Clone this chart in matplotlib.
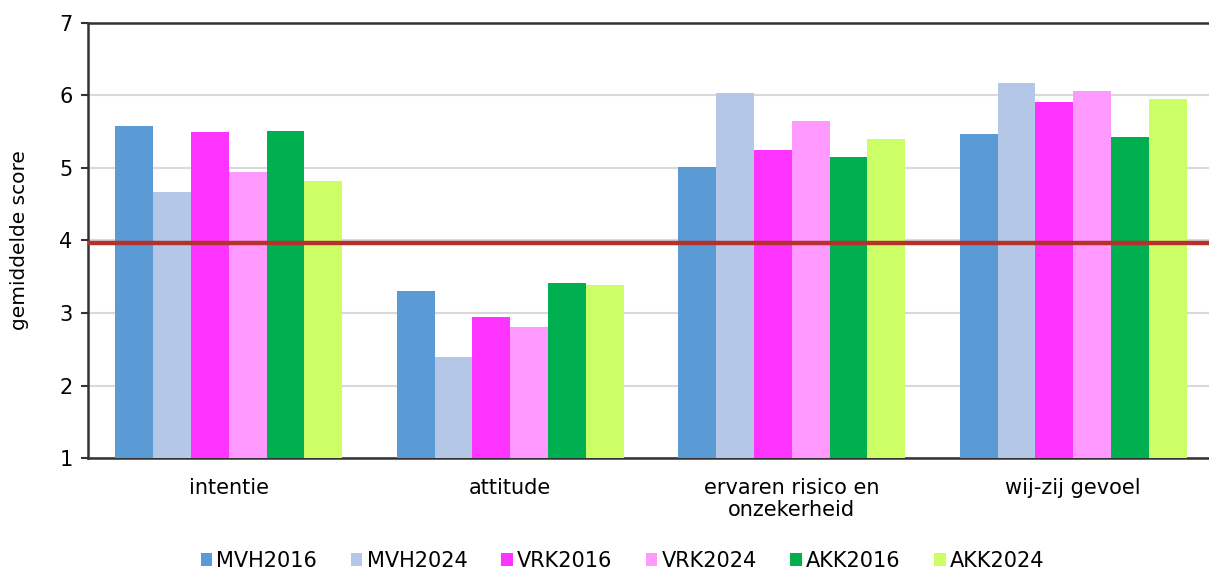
import matplotlib
matplotlib.use("Agg")
import matplotlib.pyplot as plt
import numpy as np

categories = ["intentie", "attitude", "ervaren risico en\nonzekerheid", "wij-zij gevoel"]
series_names = ["MVH2016", "MVH2024", "VRK2016", "VRK2024", "AKK2016", "AKK2024"]
mvh2016 = [5.57, 3.30, 5.01, 5.46]
mvh2024 = [4.66, 2.39, 6.03, 6.17]
vrk2016 = [5.49, 2.94, 5.24, 5.90]
vrk2024 = [4.94, 2.81, 5.65, 6.06]
akk2016 = [5.51, 3.41, 5.15, 5.43]
akk2024 = [4.82, 3.38, 5.40, 5.95]
reference_value = 3.97
y_ticks = [1, 2, 3, 4, 5, 6, 7]

series_values = [mvh2016, mvh2024, vrk2016, vrk2024, akk2016, akk2024]
colors = ["#5B9BD5", "#B4C7E7", "#FF33FF", "#FF99FF", "#00B050", "#CCFF66"]

plt.rcParams['font.family'] = ['DejaVu Sans']

fig = plt.figure(figsize=(12.09, 5.72), dpi=100)
ax = fig.add_axes([88/1209, 1 - 458.3/572, (1214 - 88)/1209, (458.3 - 22.5)/572])

n = len(series_names)
group_w = 0.806
bw = group_w / n
x = np.arange(len(categories))
base = y_ticks[0]
for i, (name, vals, c) in enumerate(zip(series_names, series_values, colors)):
    offs = -group_w / 2 + bw * (i + 0.5)
    ax.bar(x + offs, np.array(vals) - base, bottom=base, width=bw, color=c,
           label=name, zorder=3, linewidth=0)

ax.axhline(reference_value, color="#B3322C", linewidth=3.2, zorder=4)

ax.set_xlim(-0.5, len(categories) - 0.5)
ax.set_ylim(y_ticks[0], y_ticks[-1])
ax.set_yticks(y_ticks)
ax.set_yticklabels([str(t) for t in y_ticks], fontsize=15)
ax.set_xticks(x)
ax.set_xticklabels(categories, fontsize=15, linespacing=1.15)
ax.tick_params(axis='x', length=0, pad=14)
ax.tick_params(axis='y', length=5, width=1.5, color="#333333", pad=6)
ax.yaxis.grid(True, color="#D9D9D9", linewidth=1.5, zorder=0)
ax.set_axisbelow(True)

for s in ["left", "bottom", "top"]:
    ax.spines[s].set_color("#333333")
    ax.spines[s].set_linewidth(1.8)
ax.spines["right"].set_visible(False)

ax.set_ylabel("gemiddelde score", fontsize=14.5, labelpad=22)

fig.legend(loc="center", bbox_to_anchor=(0.515, 1 - 561/572), ncol=6, frameon=False,
           fontsize=15, handlelength=0.55, handleheight=0.55, handletextpad=0.2,
           columnspacing=1.62)

fig.savefig("out.png", dpi=100)
